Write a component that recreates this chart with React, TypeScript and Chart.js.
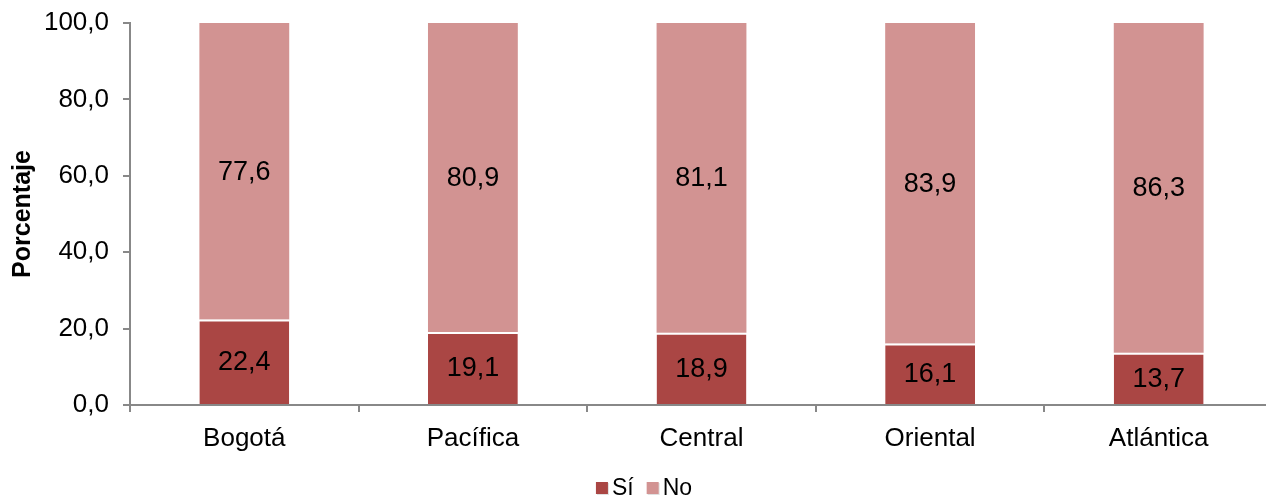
import React, { useEffect, useRef } from "react";
import { Chart, registerables } from "chart.js";

Chart.register(...registerables);

const categories = ["Bogotá", "Pacífica", "Central", "Oriental", "Atlántica"];
const siValues = [22.4, 19.1, 18.9, 16.1, 13.7];
const noValues = [77.6, 80.9, 81.1, 83.9, 86.3];
const yTicks = [0, 20, 40, 60, 80, 100];
const seriesNames = ["Sí", "No"];
const seriesColors = ["#AA4644", "#D29392"];

const fmt = (v: number) => v.toFixed(1).replace(".", ",");

const FONT = "'Liberation Sans', Arial, sans-serif";

const labelPlugin = {
  id: "barLabels",
  afterDatasetsDraw(chart: any) {
    const ctx = chart.ctx;
    ctx.save();
    ctx.font = `27px ${FONT}`;
    ctx.fillStyle = "#000";
    ctx.textAlign = "center";
    ctx.textBaseline = "middle";
    chart.data.datasets.forEach((ds: any, di: number) => {
      const meta = chart.getDatasetMeta(di);
      meta.data.forEach((bar: any, i: number) => {
        const y = (bar.y + bar.base) / 2;
        ctx.fillText(fmt(ds.data[i]), bar.x, y + 1);
      });
    });
    ctx.restore();
  },
};

const legendPlugin = {
  id: "customLegend",
  afterDraw(chart: any) {
    const ctx = chart.ctx;
    ctx.save();
    ctx.font = `23px ${FONT}`;
    ctx.textBaseline = "middle";
    ctx.textAlign = "left";
    const box = 12;
    const gapBoxText = 4;
    const gapItems = 13;
    const names = chart.data.datasets.map((d: any) => d.label);
    const widths = names.map((n: string) => ctx.measureText(n).width);
    let total = 0;
    widths.forEach((w: number, i: number) => {
      total += box + gapBoxText + w + (i < widths.length - 1 ? gapItems : 0);
    });
    let x = 644 - total / 2;
    const cy = 488;
    chart.data.datasets.forEach((d: any, i: number) => {
      ctx.fillStyle = "rgba(0,0,0,0.12)";
      ctx.fillRect(x + 1, cy - box / 2 + 1, box, box);
      ctx.fillStyle = d.backgroundColor;
      ctx.fillRect(x, cy - box / 2, box, box);
      ctx.fillStyle = "#000";
      ctx.fillText(names[i], x + box + gapBoxText, cy + 1);
      x += box + gapBoxText + widths[i] + gapItems;
    });
    ctx.restore();
  },
};

export default function App() {
  const ref = useRef<HTMLCanvasElement>(null);
  useEffect(() => {
    if (!ref.current) return;
    const chart = new Chart(ref.current, {
      type: "bar",
      data: {
        labels: categories,
        datasets: [
          {
            label: seriesNames[0],
            data: siValues,
            backgroundColor: seriesColors[0],
            borderColor: "#ffffff",
            borderWidth: { top: 2, left: 0, right: 0, bottom: 0 },
            borderSkipped: false,
            categoryPercentage: 1,
            barPercentage: 0.393,
          },
          {
            label: seriesNames[1],
            data: noValues,
            backgroundColor: seriesColors[1],
            borderWidth: 0,
            categoryPercentage: 1,
            barPercentage: 0.393,
          },
        ],
      },
      options: {
        responsive: false,
        animation: false,
        layout: { padding: { top: 23, left: 0, right: 8, bottom: 0 } },
        plugins: {
          tooltip: { enabled: false },
          legend: { display: false },
        },
        scales: {
          x: {
            stacked: true,
            afterFit: (s: any) => {
              s.height = 92;
              s.paddingLeft = 0;
              s.paddingRight = 0;
            },
            grid: {
              offset: true,
              drawOnChartArea: false,
              drawTicks: true,
              tickLength: 7,
              color: "#888",
              lineWidth: 2,
            },
            border: { display: true, color: "#888", width: 2 },
            ticks: {
              font: { family: FONT, size: 26 },
              color: "#000",
              padding: 11,
            },
          },
          y: {
            stacked: true,
            min: 0,
            max: 100,
            afterFit: (s: any) => {
              s.width = 130;
              s.paddingTop = 0;
              s.paddingBottom = 0;
            },
            afterBuildTicks: (s: any) => {
              s.ticks = yTicks.map((v) => ({ value: v }));
            },
            grid: {
              drawOnChartArea: false,
              drawTicks: true,
              tickLength: 7,
              color: "#888",
              lineWidth: 2,
            },
            border: { display: true, color: "#888", width: 2 },
            ticks: {
              font: { family: FONT, size: 26 },
              color: "#000",
              padding: 14,
              callback: (v: any) => fmt(Number(v)),
            },
            title: {
              display: true,
              text: "Porcentaje",
              font: { family: FONT, size: 25, weight: "bold" },
              color: "#000",
              padding: { top: 8, bottom: 0 },
            },
          },
        },
      },
      plugins: [labelPlugin, legendPlugin],
    } as any);
    return () => chart.destroy();
  }, []);

  return (
    <div
      style={{
        position: "fixed",
        left: 0,
        top: 0,
        width: 1266,
        height: 497,
        overflow: "hidden",
        background: "#fff",
      }}
    >
      <canvas ref={ref} width={1281} height={497} style={{ display: "block" }} />
    </div>
  );
}
